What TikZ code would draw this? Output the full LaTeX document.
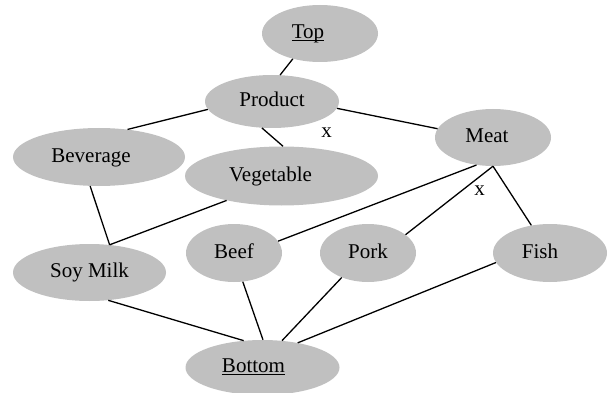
\documentclass[tikz,border=0pt]{standalone}
\usepackage{fontspec}
\setmainfont{Liberation Serif}
\usetikzlibrary{shapes.geometric}
\definecolor{blobgray}{RGB}{192,192,192}
\begin{document}
\begin{tikzpicture}[
        x=1pt, y=-1pt,
        font=\fontsize{21}{25}\selectfont,
        concept/.style={ellipse, fill=blobgray, inner sep=0pt,
                text height=15pt, text depth=5pt},
        link/.style={line width=1.3pt}
    ]
    \useasboundingbox (0,0) rectangle (613,393);
    \node[concept, minimum width=116pt, minimum height=57pt] (top) at (320,33.5) {\underline{\smash{Top}}\kern24pt};
    \node[concept, minimum width=134pt, minimum height=53pt] (prod) at (272,101.5) {Product};
    \node[concept, minimum width=116pt, minimum height=57pt] (meat) at (493,137.5) {Meat\kern12pt};
    \node[concept, minimum width=172pt, minimum height=58pt] (bev) at (99,157) {Beverage\kern16pt};
    \node[concept, minimum width=193pt, minimum height=59pt] (veg) at (281.5,176) {Vegetable\kern22pt};
    \node[concept, minimum width=153pt, minimum height=57pt] (soy) at (89.5,272.5) {Soy Milk};
    \node[concept, minimum width=96pt, minimum height=58pt] (beef) at (234,253) {Beef};
    \node[concept, minimum width=96pt, minimum height=58pt] (pork) at (368,253) {Pork};
    \node[concept, minimum width=114pt, minimum height=58pt] (fish) at (550,253) {Fish\kern20pt};
    \node[concept, minimum width=154pt, minimum height=55pt] (bot) at (262.5,367.5) {\underline{Bottom}\kern18pt};
    \node (cross1) at (326.5,133) {x};
    \node (cross2) at (479.5,190.5) {x};
    \draw[link] (top.223) -- (prod.73);
    \draw[link] (prod.187) -- (bev.44);
    \draw[link] (prod.249) -- (veg.87);
    \draw[link] (prod.354) -- (meat.171);
    \draw[link] (meat.239) -- (beef.15);
    \draw[link] (meat.270) -- (pork.26);
    \draw[link] (meat.270) -- (fish.124);
    \draw[link] (bev.253) -- (soy.54);
    \draw[link] (veg.204) -- (soy.54);
    \draw[link] (soy.304) -- (bot.125);
    \draw[link] (beef.287) -- (bot.89);
    \draw[link] (pork.223) -- (bot.54);
    \draw[link] (fish.190) -- (bot.35);
\end{tikzpicture}
\end{document}
